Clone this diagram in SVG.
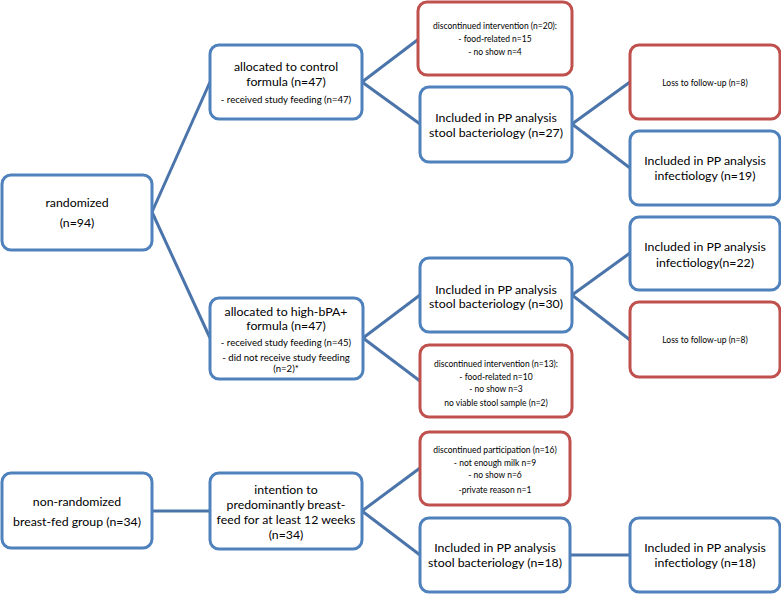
<svg xmlns="http://www.w3.org/2000/svg" width="781" height="594" viewBox="0 0 781 594">
<style>
.b{fill:#fff;stroke:#4f81bd;stroke-width:3}
.r{fill:#fff;stroke:#c0504d;stroke-width:3}
.c line{stroke:#4a74aa;stroke-width:3}
text{font-family:Lato,"Liberation Sans",sans-serif;fill:#000;text-anchor:middle}
.m{font-size:12.3px}
.s{font-size:9.6px}
.x{font-size:8.5px}
</style>
<rect width="781" height="594" fill="#fff"/>
<g class="c" id="connectors">
<line x1="152" y1="212" x2="210" y2="82"/>
<line x1="152" y1="212" x2="210" y2="338"/>
<line x1="362" y1="82" x2="420" y2="38"/>
<line x1="362" y1="82" x2="420" y2="124"/>
<line x1="572" y1="124" x2="630" y2="82"/>
<line x1="572" y1="124" x2="630" y2="168"/>
<line x1="572" y1="295" x2="630" y2="253"/>
<line x1="572" y1="295" x2="630" y2="340"/>
<line x1="363" y1="338" x2="420" y2="295"/>
<line x1="363" y1="338" x2="420" y2="381"/>
<line x1="152" y1="511" x2="210" y2="511"/>
<line x1="362" y1="511" x2="420" y2="468"/>
<line x1="362" y1="511" x2="420" y2="555"/>
<line x1="570" y1="555" x2="630" y2="555"/>
</g>
<g id="randomized"><rect class="b" x="2" y="175" width="150" height="75" rx="9"/>
<text class="m" x="77" y="207">randomized</text><text class="m" x="77" y="227">(n=94)</text></g>
<g id="control"><rect class="b" x="210" y="45" width="152" height="74" rx="9"/>
<text class="m" x="286" y="71">allocated to control</text><text class="m" x="286" y="86">formula (n=47)</text>
<text class="s" x="286" y="103">- received study feeding (n=47)</text></g>
<g id="disc20"><rect class="r" x="418" y="2" width="154" height="73" rx="9"/>
<text class="x" x="495" y="29">discontinued intervention (n=20):</text>
<text class="x" x="495" y="42">- food-related n=15</text>
<text class="x" x="495" y="55">- no show n=4</text></g>
<g id="stool27"><rect class="b" x="420" y="87" width="152" height="75" rx="9"/>
<text class="m" x="496" y="122">Included in PP analysis</text><text class="m" x="496" y="137">stool bacteriology (n=27)</text></g>
<g id="loss1"><rect class="r" x="630" y="45" width="150" height="74" rx="9"/>
<text class="x" x="705" y="86">Loss to follow-up (n=8)</text></g>
<g id="inf19"><rect class="b" x="630" y="131" width="150" height="74" rx="9"/>
<text class="m" x="705" y="165">Included in PP analysis</text><text class="m" x="705" y="180">infectiology (n=19)</text></g>
<g id="inf22"><rect class="b" x="630" y="217" width="150" height="73" rx="9"/>
<text class="m" x="705" y="251">Included in PP analysis</text><text class="m" x="705" y="267">infectiology(n=22)</text></g>
<g id="loss2"><rect class="r" x="630" y="302" width="150" height="75" rx="9"/>
<text class="x" x="705" y="343">Loss to follow-up (n=8)</text></g>
<g id="stool30"><rect class="b" x="420" y="258" width="152" height="74" rx="9"/>
<text class="m" x="496" y="294">Included in PP analysis</text><text class="m" x="496" y="308">stool bacteriology (n=30)</text></g>
<g id="highbpa"><rect class="b" x="210" y="298" width="153" height="81" rx="9"/>
<text class="m" x="286" y="316">allocated to high-bPA+</text><text class="m" x="286" y="330">formula (n=47)</text>
<text class="s" x="286" y="346">- received study feeding (n=45)</text>
<text class="s" x="286" y="361">- did not receive study feeding</text>
<text class="s" x="286" y="372">(n=2)*</text></g>
<g id="disc13"><rect class="r" x="420" y="345" width="152" height="72" rx="9"/>
<text class="x" x="496" y="367">discontinued intervention (n=13):</text>
<text class="x" x="496" y="380">- food-related n=10</text>
<text class="x" x="496" y="392">- no show n=3</text>
<text class="x" x="496" y="406">no viable stool sample (n=2)</text></g>
<g id="nonrand"><rect class="b" x="2" y="473" width="150" height="75" rx="9"/>
<text class="m" x="77" y="506">non-randomized</text><text class="m" x="77" y="526">breast-fed group (n=34)</text></g>
<g id="intention"><rect class="b" x="210" y="473" width="152" height="76" rx="9"/>
<text class="m" x="286" y="494">intention to</text><text class="m" x="286" y="509">predominantly breast-</text>
<text class="m" x="286" y="524">feed for at least 12 weeks</text><text class="m" x="286" y="539">(n=34)</text></g>
<g id="disc16"><rect class="r" x="420" y="432" width="150" height="73" rx="9"/>
<text class="x" x="495" y="453">discontinued participation (n=16)</text>
<text class="x" x="495" y="466">- not enough milk n=9</text>
<text class="x" x="495" y="478">- no show n=6</text>
<text class="x" x="495" y="493">-private reason n=1</text></g>
<g id="stool18"><rect class="b" x="420" y="518" width="150" height="74" rx="9"/>
<text class="m" x="495" y="552">Included in PP analysis</text><text class="m" x="495" y="567">stool bacteriology (n=18)</text></g>
<g id="inf18"><rect class="b" x="630" y="518" width="150" height="74" rx="9"/>
<text class="m" x="705" y="552">Included in PP analysis</text><text class="m" x="705" y="567">infectiology (n=18)</text></g>
</svg>
